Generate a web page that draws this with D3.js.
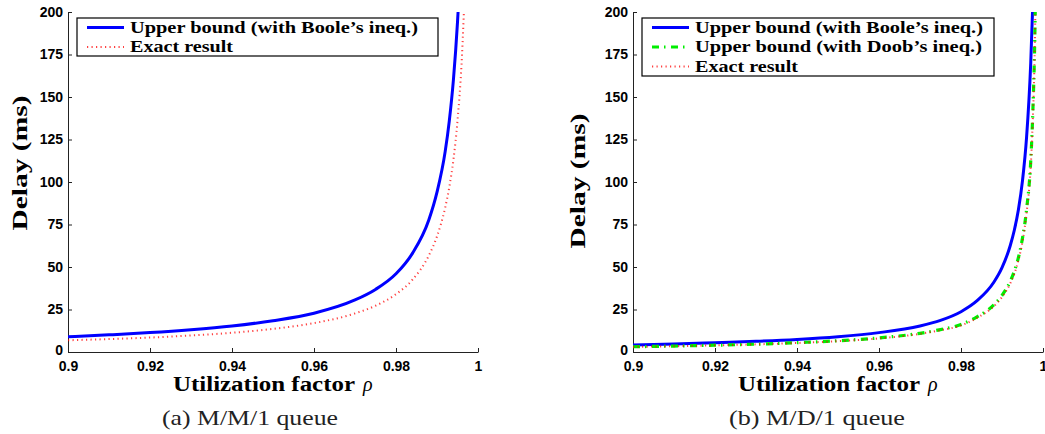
<!DOCTYPE html>
<html><head><meta charset="utf-8">
<script src="https://cdn.jsdelivr.net/npm/d3@7"></script>
<style>
html,body{margin:0;padding:0;background:#fff;}
svg{display:block;}
.tick text{font-family:"Liberation Sans",Arial,sans-serif;font-weight:bold;font-size:14px;fill:#000;}
</style>
</head><body>
<script>
// ---------- data ----------
const xTicks = [0.9, 0.92, 0.94, 0.96, 0.98, 1];
const yTicks = [0, 25, 50, 75, 100, 125, 150, 175, 200];

// Panel (a) M/M/1
const rhoA = [0.90,0.91,0.92,0.93,0.94,0.95,0.96,0.97,0.975,0.98,0.984,0.988,0.990,0.992,0.993,0.994,0.995,0.996,0.997];
const booleA = [9.0,10.1,11.4,13.1,15.3,18.4,22.8,30.6,36.8,46,58,77.6,94,118,136,160,194,243,320];
const exactA = [6.9,7.6,8.5,9.7,11.3,13.6,17,22.7,27.2,34,42.5,56.7,68,85,97,113,136,170,227];

// Panel (b) M/D/1
const rhoB = [0.90,0.91,0.92,0.93,0.94,0.95,0.96,0.97,0.975,0.98,0.984,0.988,0.990,0.992,0.993,0.994,0.995,0.996,0.997,0.9975,0.998,0.9982];
const booleB = [4.1,4.7,5.5,6.3,7.4,9.0,11.4,15.3,18.6,23.7,30.3,41,49.6,62.5,71.6,83.7,100.8,126.5,169.5,204,256,290];
const doobB = [3.1,3.5,4.0,4.6,5.5,6.6,8.3,11,13.2,16.2,20.8,27.7,33.3,41.5,47.5,55.5,67,84,112,140,185,215];
const exactB = [3.0,3.4,3.9,4.5,5.3,6.4,8.0,10.7,12.8,15.6,20.2,26.9,32.3,40.3,46,54,65,82,109,136,180,210];

const labelBoole = "Upper bound (with Boole\u2019s ineq.)";
const labelDoob = "Upper bound (with Doob\u2019s ineq.)";
const labelExact = "Exact result";
const xLabel = "Utilization factor";
const xSymbol = "\u03C1";
const yLabel = "Delay (ms)";
const captions = ["(a) M/M/1 queue", "(b) M/D/1 queue"];

// ---------- styles ----------
const styles = {
  boole: {stroke:"#0000ff", width:3, dash:null, opacity:1},
  doob:  {stroke:"#00ee00", width:3.2, dash:"7,5,1.5,5.5", opacity:1},
  exact: {stroke:"#ff0000", width:2, dash:"1.2,3.3", opacity:0.75}
};
const serif = "'Liberation Serif','Times New Roman',serif";

const W = 1045, H = 434;
const svg = d3.select("body").append("svg").attr("width", W).attr("height", H);

const panels = [
  {x0:68, x1:478, y0:352, y1:12,
   series:[{rho:rhoA, v:booleA, s:"boole", label:labelBoole},
           {rho:rhoA, v:exactA, s:"exact", label:labelExact}],
   legend:{x:77, y:18, w:361, h:38, lineX0:87, lineX1:124, textX:130, widths:[288,103]},
   ylab:{x:27, y:163}, xlabX:173, caption:captions[0], capCx:250},
  {x0:633, x1:1043, y0:352, y1:12,
   series:[{rho:rhoB, v:booleB, s:"boole", label:labelBoole},
           {rho:rhoB, v:doobB, s:"doob", label:labelDoob},
           {rho:rhoB, v:exactB, s:"exact", label:labelExact}],
   legend:{x:642, y:18, w:352, h:58, lineX0:652, lineX1:689, textX:695, widths:[288,287,103]},
   ylab:{x:585, y:181}, xlabX:738, caption:captions[1], capCx:817}
];

panels.forEach((p, i) => {
  const x = d3.scaleLinear().domain([0.9, 1]).range([p.x0, p.x1]);
  const y = d3.scaleLinear().domain([0, 200]).range([p.y0, p.y1]);
  const g = svg.append("g");

  const clipId = "clip" + i;
  svg.append("defs").append("clipPath").attr("id", clipId)
    .append("rect").attr("x", p.x0).attr("y", p.y1).attr("width", p.x1 - p.x0 + 2).attr("height", p.y0 - p.y1);

  // axes
  const fmt = d => d === 1 ? "1" : (d === 0.9 ? "0.9" : d3.format(".2f")(d));
  const xa = g.append("g").attr("transform", `translate(0,${p.y0})`)
    .call(d3.axisBottom(x).tickValues(xTicks).tickFormat(fmt).tickSizeInner(-4).tickSizeOuter(0).tickPadding(9));
  const ya = g.append("g").attr("transform", `translate(${p.x0},0)`)
    .call(d3.axisLeft(y).tickValues(yTicks).tickSizeInner(-4).tickSizeOuter(0).tickPadding(5));
  [xa, ya].forEach(a => { a.selectAll("path,line").attr("stroke", "#222"); });
  ya.selectAll(".tick text").filter(d => d === 0).attr("dy", "0.2em");

  // lines
  const line = d3.line().x(d => x(d[0])).y(d => y(d[1])).curve(d3.curveMonotoneX);
  const lg = g.append("g").attr("clip-path", `url(#${clipId})`);
  p.series.forEach(sr => {
    const st = styles[sr.s];
    const pts = sr.rho.map((r, k) => [r, sr.v[k]]);
    lg.append("path").datum(pts).attr("d", line)
      .attr("fill", "none").attr("stroke", st.stroke).attr("stroke-width", st.width)
      .attr("stroke-opacity", st.opacity)
      .attr("stroke-dasharray", st.dash);
  });

  // legend
  const L = p.legend;
  g.append("rect").attr("x", L.x).attr("y", L.y).attr("width", L.w).attr("height", L.h)
    .attr("fill", "#fff").attr("stroke", "#000").attr("stroke-width", 1.2);
  p.series.forEach((sr, k) => {
    const st = styles[sr.s];
    const cy = L.y + 9.5 + k * 19.5;
    g.append("line").attr("x1", L.lineX0).attr("x2", L.lineX1).attr("y1", cy).attr("y2", cy)
      .attr("stroke", st.stroke).attr("stroke-width", st.width).attr("stroke-opacity", st.opacity)
      .attr("stroke-dasharray", st.dash);
    g.append("text").attr("x", L.textX).attr("y", cy + 5)
      .attr("font-family", serif).attr("font-weight", "bold")
      .attr("font-size", 16.5).attr("fill", "#000")
      .attr("textLength", L.widths[k]).attr("lengthAdjust", "spacingAndGlyphs")
      .text(sr.label);
  });

  // axis labels
  g.append("text").attr("x", p.xlabX).attr("y", 391)
    .attr("font-family", serif).attr("font-weight", "bold").attr("font-size", 20).attr("fill", "#000")
    .attr("textLength", 182).attr("lengthAdjust", "spacingAndGlyphs").text(xLabel);
  g.append("text").attr("x", p.xlabX + 190).attr("y", 391)
    .attr("font-family", serif).attr("font-style", "italic").attr("font-size", 20).attr("fill", "#000")
    .text(xSymbol);

  g.append("text").attr("transform", `translate(${p.ylab.x},${p.ylab.y}) rotate(-90)`)
    .attr("text-anchor", "middle")
    .attr("font-family", serif).attr("font-weight", "bold")
    .attr("font-size", 21).attr("fill", "#000")
    .attr("textLength", 135).attr("lengthAdjust", "spacingAndGlyphs").text(yLabel);

  // caption
  g.append("text").attr("x", p.capCx).attr("y", 425).attr("text-anchor", "middle")
    .attr("font-family", serif).attr("font-size", 22)
    .attr("fill", "#222")
    .attr("textLength", 176).attr("lengthAdjust", "spacingAndGlyphs").text(p.caption);
});
</script>
</body></html>
